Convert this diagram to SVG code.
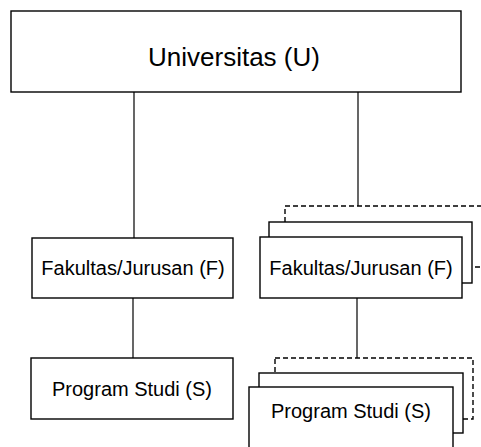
<svg xmlns="http://www.w3.org/2000/svg" width="481" height="447" viewBox="0 0 481 447">
<style>
.box{fill:#fff;stroke:#000;stroke-width:1.4}
.dash{fill:#fff;stroke:#000;stroke-width:1.4;stroke-dasharray:5 3}
.lbl{font-family:"Liberation Sans",Arial,sans-serif;fill:#000;text-anchor:middle}
.big{font-size:26px}
.sm{font-size:20px}
.conn{stroke:#000;stroke-width:1.2;fill:none}
</style>
<rect width="481" height="447" fill="#fff"/>
<g id="connectors">
<line class="conn" x1="134" y1="92" x2="134" y2="238"/>
<line class="conn" x1="133" y1="298" x2="133" y2="358"/>
<line class="conn" x1="358" y1="92" x2="358" y2="206"/>
<line class="conn" x1="357" y1="298" x2="357" y2="358"/>
</g>
<g id="universitas">
<rect class="box" x="11" y="11" width="450" height="81"/>
<text class="lbl big" x="234" y="66">Universitas (U)</text>
</g>
<g id="fakultas-left">
<rect class="box" x="32" y="238" width="201" height="60"/>
<text class="lbl sm" x="133" y="275">Fakultas/Jurusan (F)</text>
</g>
<g id="prodi-left">
<rect class="box" x="31" y="358" width="202" height="61"/>
<text class="lbl sm" x="132" y="396">Program Studi (S)</text>
</g>
<g id="fakultas-right">
<rect class="dash" x="285" y="206" width="199" height="61"/>
<rect class="box" x="269" y="222" width="203" height="61"/>
<rect class="box" x="260" y="237" width="202" height="61"/>
<text class="lbl sm" x="361" y="275">Fakultas/Jurusan (F)</text>
</g>
<g id="prodi-right">
<rect class="dash" x="275" y="358" width="198" height="61"/>
<rect class="box" x="259" y="373" width="204" height="60"/>
<rect class="box" x="249" y="387" width="204" height="70"/>
<text class="lbl sm" x="351" y="418">Program Studi (S)</text>
</g>
</svg>
